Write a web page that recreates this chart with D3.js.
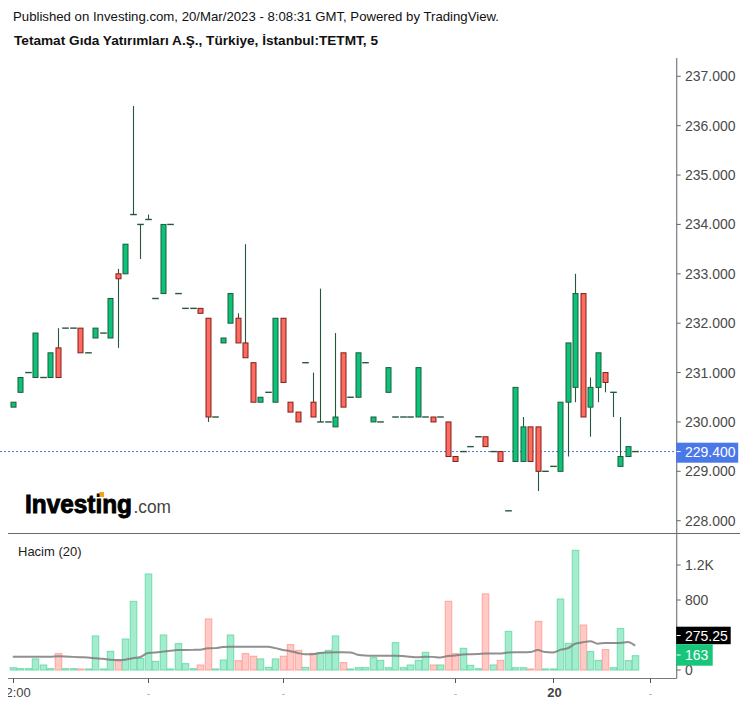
<!DOCTYPE html>
<html><head><meta charset="utf-8">
<script src="https://cdn.jsdelivr.net/npm/d3@7"></script>
<style>
html,body{margin:0;padding:0;background:#fff;}
svg{display:block;font-family:"Liberation Sans",Arial,sans-serif;}
</style></head>
<body><svg id="c" width="747" height="707"></svg>
<script>
// ---- data ----
const opens  = [230.3,230.6,231.0,230.9,230.9,230.9,231.5,231.9,231.9,231.9,231.4,231.7,231.8,231.7,233.0,233.0,234.2,234.0,234.1,232.5,
                232.6,234.0,232.6,232.3,232.3,232.3,232.1,230.1,231.6,232.0,232.1,231.6,231.2,230.4,230.6,230.4,232.1,230.4,230.2,231.2,
                230.4,230.0,230.0,229.9,231.4,230.5,230.5,231.2,230.0,230.0,230.6,230.1,230.1,230.1,230.1,230.1,230.1,230.1,230.0,229.3,
                229.4,229.5,229.7,229.7,229.4,229.4,228.2,229.2,229.2,229.9,229.9,229.0,229.1,229.0,230.4,230.7,232.6,230.3,230.7,231.0,
                230.6,229.1,229.3,229.4];
const closes = [230.4,230.9,231.0,231.8,230.9,231.4,230.9,231.9,231.9,231.4,231.4,231.9,231.8,232.5,232.9,233.6,234.2,234.0,234.1,232.5,
                234.0,234.0,232.6,232.3,232.3,232.2,230.1,230.1,231.7,232.6,231.6,231.3,230.4,230.5,230.6,232.1,230.8,230.2,230.0,231.2,
                230.1,230.0,230.0,230.1,230.3,230.5,231.4,231.2,230.1,230.0,231.1,230.1,230.1,230.1,231.1,230.1,230.0,230.1,229.3,229.2,
                229.4,229.5,229.7,229.5,229.4,229.2,228.2,230.7,229.9,229.2,229.0,229.0,229.1,230.4,231.6,232.6,230.1,230.7,231.4,230.8,
                230.6,229.3,229.5,229.4];
// highs / lows only where a wick is visible (others = body edge)
const highs  = {6:231.9,14:233.1,16:236.4,18:234.2,26:232.1,30:232.2,31:233.6,40:231.0,41:232.7,43:231.8,68:230.1,75:233.0,77:230.9,81:230.1};
const lows   = {6:230.9,14:231.5,17:233.3,26:230.0,70:228.6,74:229.3,75:230.4,77:229.7,78:230.4,79:230.6,80:230.1};
const volumes = [26,15,15,126,57,15,187,15,15,4,5,389,5,213,99,354,785,133,1097,99,
                 400,5,301,72,15,57,583,5,114,400,106,187,157,126,30,126,157,290,225,30,
                 190,198,225,389,84,5,26,26,141,110,26,312,26,57,110,202,57,57,785,187,
                 248,53,15,869,57,110,442,26,26,3,556,5,5,811,305,1368,514,210,110,233,
                 26,473,107,163];
const volMA = [152,152,152,152,152,152,158,155,150,146,143,135,128,118,114,118,135,148,195,200,
               210,220,229,229,230,232,248,250,262,267,267,267,267,267,265,250,229,215,195,180,
               180,195,200,202,202,200,175,165,163,163,163,163,160,152,145,152,150,143,160,165,
               178,180,183,190,190,188,200,202,202,205,228,205,200,230,248,300,316,330,300,310,
               310,310,320,278];
const priceTicks = [228,229,230,231,232,233,234,235,236,237];
const volTicks = [0,400,800,1200];
const volTickLabels = ["0","","800","1.2K"];   // 400 is hidden under the badge in the reference
const timeTickIdx = [0,18,36,59,72,85];
const timeTickLabels = ["12:00","","","","20",""];
const lastPrice = 229.4;
const lastVolMA = "275.25";
const lastVol = "163";

// ---- drawing ----
const svg = d3.select("#c");
const axisX = 676.7;
const x = d3.scaleLinear().domain([0, opens.length-1]).range([12.8, 635.2]);
const y = d3.scaleLinear().domain([228, 237]).range([520.7, 76.3]);
const yv = d3.scaleLinear().domain([0, 1200]).range([670, 565]);

const green = "#0bc47a", greenEdge = "#1d5a3a", red = "#ff6b5e", redEdge = "#7d1f1a", wick = "#25573d";

// header
svg.append("text").attr("x",13).attr("y",21).attr("font-size",13).attr("fill","#111")
  .attr("textLength",486).attr("lengthAdjust","spacingAndGlyphs")
  .text("Published on Investing.com, 20/Mar/2023 - 8:08:31 GMT, Powered by TradingView.");
svg.append("text").attr("x",14).attr("y",45).attr("font-size",13).attr("font-weight","bold").attr("fill","#111")
  .attr("textLength",364).attr("lengthAdjust","spacingAndGlyphs")
  .text("Tetamat Gıda Yatırımları A.Ş., Türkiye, İstanbul:TETMT, 5");

// frame lines
svg.append("line").attr("x1",axisX).attr("x2",axisX).attr("y1",58).attr("y2",678.5).attr("stroke","#7a7a7a").attr("stroke-width",1.2);
svg.append("line").attr("x1",8).attr("x2",740).attr("y1",533.5).attr("y2",533.5).attr("stroke","#6a6a6a").attr("stroke-width",1.2);
svg.append("line").attr("x1",8).attr("x2",axisX).attr("y1",678.5).attr("y2",678.5).attr("stroke","#7a7a7a").attr("stroke-width",1.2);

// price axis
const pa = svg.append("g");
priceTicks.forEach(p => {
  pa.append("line").attr("x1",axisX).attr("x2",axisX+4).attr("y1",y(p)).attr("y2",y(p)).attr("stroke","#666");
  pa.append("text").attr("x",685).attr("y",y(p)+5).attr("font-size",14).attr("fill","#4a4a4a")
    .text(d3.format(".3f")(p));
});

// logo
const logo = svg.append("g");
logo.append("text").attr("x",25).attr("y",512.7).attr("font-size",25).attr("font-weight","bold").attr("fill","#000")
  .attr("stroke","#000").attr("stroke-width",0.9)
  .attr("textLength",107).attr("lengthAdjust","spacingAndGlyphs").text("Investing");
logo.append("text").attr("x",133.5).attr("y",512.7).attr("font-size",17.5).attr("fill","#444")
  .attr("textLength",37.5).attr("lengthAdjust","spacingAndGlyphs").text(".com");
logo.append("rect").attr("x",99.5).attr("y",492).attr("width",4.5).attr("height",5).attr("fill","#f7a21b");

// last price line
svg.append("line").attr("x1",0).attr("x2",axisX).attr("y1",y(lastPrice)).attr("y2",y(lastPrice))
  .attr("stroke","#4d72e3").attr("stroke-width",1).attr("stroke-dasharray","2,2");

// candles
const cg = svg.append("g");
opens.forEach((o,i) => {
  const c = closes[i];
  const up = c >= o;
  const top = Math.max(o,c), bot = Math.min(o,c);
  const hi = highs[i] !== undefined ? highs[i] : top;
  const lo = lows[i] !== undefined ? lows[i] : bot;
  const cx = Math.round(x(i)) + 0.5;
  if (hi > top) cg.append("line").attr("x1",cx).attr("x2",cx).attr("y1",y(hi)).attr("y2",y(top)).attr("stroke",wick).attr("stroke-width",1.1);
  if (lo < bot) cg.append("line").attr("x1",cx).attr("x2",cx).attr("y1",y(bot)).attr("y2",y(lo)).attr("stroke",wick).attr("stroke-width",1.1);
  if (top - bot < 0.05) {
    cg.append("line").attr("x1",cx-3.3).attr("x2",cx+3.3).attr("y1",y(top)).attr("y2",y(top))
      .attr("stroke",up?wick:redEdge).attr("stroke-width",1.4);
  } else {
    cg.append("rect").attr("x",cx-2.5).attr("width",5).attr("y",y(top)).attr("height",y(bot)-y(top))
      .attr("fill",up?green:red).attr("stroke",up?greenEdge:redEdge).attr("stroke-width",1);
  }
});

// volume pane
svg.append("text").attr("x",18).attr("y",555.7).attr("font-size",13).attr("fill","#222").text("Hacim (20)");
const vg = svg.append("g");
volumes.forEach((v,i) => {
  const up = closes[i] >= opens[i];
  const cx = Math.round(x(i)) + 0.5;
  const h = Math.max(yv(0) - yv(v), 1);
  vg.append("rect").attr("x",cx-3.25).attr("width",6.5).attr("y",yv(0)-h).attr("height",h)
    .attr("fill",up?"#a4ecce":"#ffc9c6").attr("stroke",up?"#6fdcaa":"#ffa39c").attr("stroke-width",1);
});
const maLine = d3.line().x((d,i)=>x(i)).y(d=>yv(d)).curve(d3.curveMonotoneX);
svg.append("path").datum(volMA).attr("d",maLine).attr("fill","none").attr("stroke","#7d7d7d")
  .attr("stroke-opacity",0.85).attr("stroke-width",2);

// volume axis
volTicks.forEach((v,i) => {
  svg.append("line").attr("x1",axisX).attr("x2",axisX+4).attr("y1",yv(v)).attr("y2",yv(v)).attr("stroke","#666");
  if (volTickLabels[i]) svg.append("text").attr("x",685).attr("y",yv(v)+5).attr("font-size",14).attr("fill","#4a4a4a").text(volTickLabels[i]);
});
// value badges
svg.append("rect").attr("x",axisX-0.5).attr("y",626.7).attr("width",54.5).attr("height",17.5).attr("fill","#000");
svg.append("line").attr("x1",axisX).attr("x2",axisX+4).attr("y1",635.5).attr("y2",635.5).attr("stroke","#fff");
svg.append("text").attr("x",685).attr("y",640.5).attr("font-size",14).attr("fill","#fff").text(lastVolMA);
svg.append("rect").attr("x",axisX-0.5).attr("y",644.2).attr("width",36.5).attr("height",21.5).attr("fill","#17c67b");
svg.append("line").attr("x1",axisX).attr("x2",axisX+4).attr("y1",655).attr("y2",655).attr("stroke","#fff");
svg.append("text").attr("x",685).attr("y",660).attr("font-size",14).attr("fill","#fff").text(lastVol);

// last price badge
svg.append("rect").attr("x",axisX-0.5).attr("y",442.7).attr("width",62).attr("height",20).attr("fill","#4a78e8");
svg.append("line").attr("x1",axisX).attr("x2",axisX+4).attr("y1",y(lastPrice)).attr("y2",y(lastPrice)).attr("stroke","#fff");
svg.append("text").attr("x",685).attr("y",457).attr("font-size",14).attr("fill","#fff").text(d3.format(".3f")(lastPrice));

// time axis
svg.append("defs").append("clipPath").attr("id","lc").append("rect").attr("x",8).attr("y",0).attr("width",700).attr("height",707);
const ta = svg.append("g");
timeTickIdx.forEach((t,i) => {
  const tx = Math.round(x(t)) + 0.5;
  ta.append("line").attr("x1",tx).attr("x2",tx).attr("y1",678.5).attr("y2",683).attr("stroke","#555");
  if (timeTickLabels[i]) {
    ta.append("text").attr("x",tx+1).attr("y",696.5).attr("text-anchor","middle").attr("font-size",13)
      .attr("font-weight", timeTickLabels[i]==="20" ? "bold" : "normal")
      .attr("fill","#444").attr("clip-path","url(#lc)").text(timeTickLabels[i]);
  } else {
    ta.append("line").attr("x1",tx-1.5).attr("x2",tx+1.5).attr("y1",694.5).attr("y2",694.5).attr("stroke","#bbb");
  }
});
</script></body></html>
